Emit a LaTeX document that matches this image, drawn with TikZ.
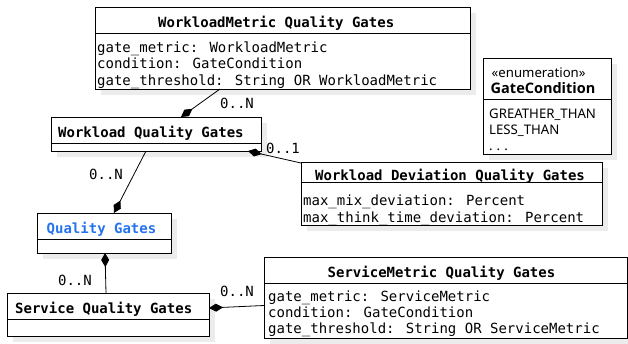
\documentclass[tikz,border=0pt]{standalone}
\usepackage{fontspec}
\setmainfont{DejaVu Sans Mono}
\newfontfamily\enumfont{Noto Sans}
\newfontfamily\enumbold{Open Sans}
\usetikzlibrary{arrows.meta,shadows}
\definecolor{qblue}{HTML}{2673F0}
\definecolor{shade}{HTML}{ECECEC}
\begin{document}
\begin{tikzpicture}[x=1pt,y=-1pt,
  cls/.style={draw=black, fill=white, line width=0.8pt, anchor=north west,
    inner sep=0pt, outer sep=0pt,
    drop shadow={shadow xshift=6pt, shadow yshift=-6pt, fill=shade, opacity=1}},
  ttl/.style={font=\fontsize{14}{16}\selectfont\bfseries, anchor=base west, inner sep=0pt},
  attr/.style={font=\fontsize{14}{16}\selectfont, anchor=base west, inner sep=0pt},
  etxt/.style={font=\enumfont\fontsize{13.2}{16}\selectfont, anchor=base west, inner sep=0pt},
  mult/.style={font=\fontsize{14}{16}\selectfont, anchor=base, inner sep=0pt},
  divl/.style={line width=0.8pt},
  comp/.style={{Diamond[length=14pt,width=8pt]}-, line width=0.8pt}]
\useasboundingbox (0,0) rectangle (628,343);

% WorkloadMetric Quality Gates
\node[cls, minimum width=375pt, minimum height=82pt] (wm) at (95,7) {};
\draw[divl] (wm.west |- 0,33) -- (wm.east |- 0,33);
\node[ttl] (wmt) at (158,27) {WorkloadMetric Quality Gates};
\node[attr] (wma1) at (97,52) {gate\_metric: WorkloadMetric};
\node[attr] (wma2) at (97,68.5) {condition: GateCondition};
\node[attr] (wma3) at (97,85) {gate\_threshold: String OR WorkloadMetric};

% GateCondition enumeration
\node[cls, minimum width=128pt, minimum height=96pt] (gc) at (483,58) {};
\draw[divl] (gc.west |- 0,99) -- (gc.east |- 0,99);
\node[etxt] (gcs) at (491.5,77) {«enumeration»};
\node[etxt, font=\enumbold\fontsize{14.5}{16}\selectfont\bfseries] (gct) at (490.5,93.5) {GateCondition};
\node[etxt] (gc1) at (489,118) {GREATHER\_THAN};
\node[etxt] (gc2) at (489,134) {LESS\_THAN};
\node[etxt] (gc3) at (489,150) {.\kern4pt.\kern4pt.};

% Workload Quality Gates
\node[cls, minimum width=210pt, minimum height=34pt] (wqg) at (51,117) {};
\draw[divl] (wqg.west |- 0,143) -- (wqg.east |- 0,143);
\node[ttl] (wqgt) at (58,137) {Workload Quality Gates};

% Workload Deviation Quality Gates
\node[cls, minimum width=301pt, minimum height=63pt] (wd) at (301,162) {};
\draw[divl] (wd.west |- 0,182) -- (wd.east |- 0,182);
\node[ttl] (wdt) at (315,180) {Workload Deviation Quality Gates};
\node[attr] (wda1) at (303,205.5) {max\_mix\_deviation: Percent};
\node[attr] (wda2) at (303,222) {max\_think\_time\_deviation: Percent};

% Quality Gates
\node[cls, minimum width=134pt, minimum height=40pt] (qg) at (37,213) {};
\draw[divl] (qg.west |- 0,239) -- (qg.east |- 0,239);
\node[ttl, text=qblue] (qgt) at (46.5,233) {Quality Gates};

% Service Quality Gates
\node[cls, minimum width=202pt, minimum height=43pt] (sqg) at (7,293) {};
\draw[divl] (sqg.west |- 0,319) -- (sqg.east |- 0,319);
\node[ttl] (sqgt) at (15,313) {Service Quality Gates};

% ServiceMetric Quality Gates
\node[cls, minimum width=363pt, minimum height=81pt] (sm) at (264,257) {};
\draw[divl] (sm.west |- 0,283) -- (sm.east |- 0,283);
\node[ttl] (smt) at (327.5,277) {ServiceMetric Quality Gates};
\node[attr] (sma1) at (268,301) {gate\_metric: ServiceMetric};
\node[attr] (sma2) at (268,317) {condition: GateCondition};
\node[attr] (sma3) at (268,333) {gate\_threshold: String OR ServiceMetric};

% connector end points
\coordinate (p1a) at (181,0 |- wqg.north);
\coordinate (p1b) at (220,0 |- wm.south);
\coordinate (p2a) at (248,0 |- wqg.south);
\coordinate (p2b) at (301,163);
\coordinate (p3a) at (114,0 |- qg.north);
\coordinate (p3b) at (146,0 |- wqg.south);
\coordinate (p4a) at (105,0 |- qg.south);
\coordinate (p4b) at (106,0 |- sqg.north);
\coordinate (p5a) at (sqg.east |- 0,308);
\coordinate (p5b) at (sm.west |- 0,305.5);

% connectors
\draw[comp] (p1a) -- (p1b);
\draw[comp] (p2a) -- (p2b);
\draw[comp] (p3a) -- (p3b);
\draw[comp] (p4a) -- (p4b);
\draw[comp] (p5a) -- (p5b);

% multiplicities
\node[mult] (m1) at (237,108) {0..N};
\node[mult] (m2) at (283,153) {0..1};
\node[mult] (m3) at (106,179) {0..N};
\node[mult] (m4) at (75,285) {0..N};
\node[mult] (m5) at (237,296) {0..N};
\end{tikzpicture}
\end{document}
